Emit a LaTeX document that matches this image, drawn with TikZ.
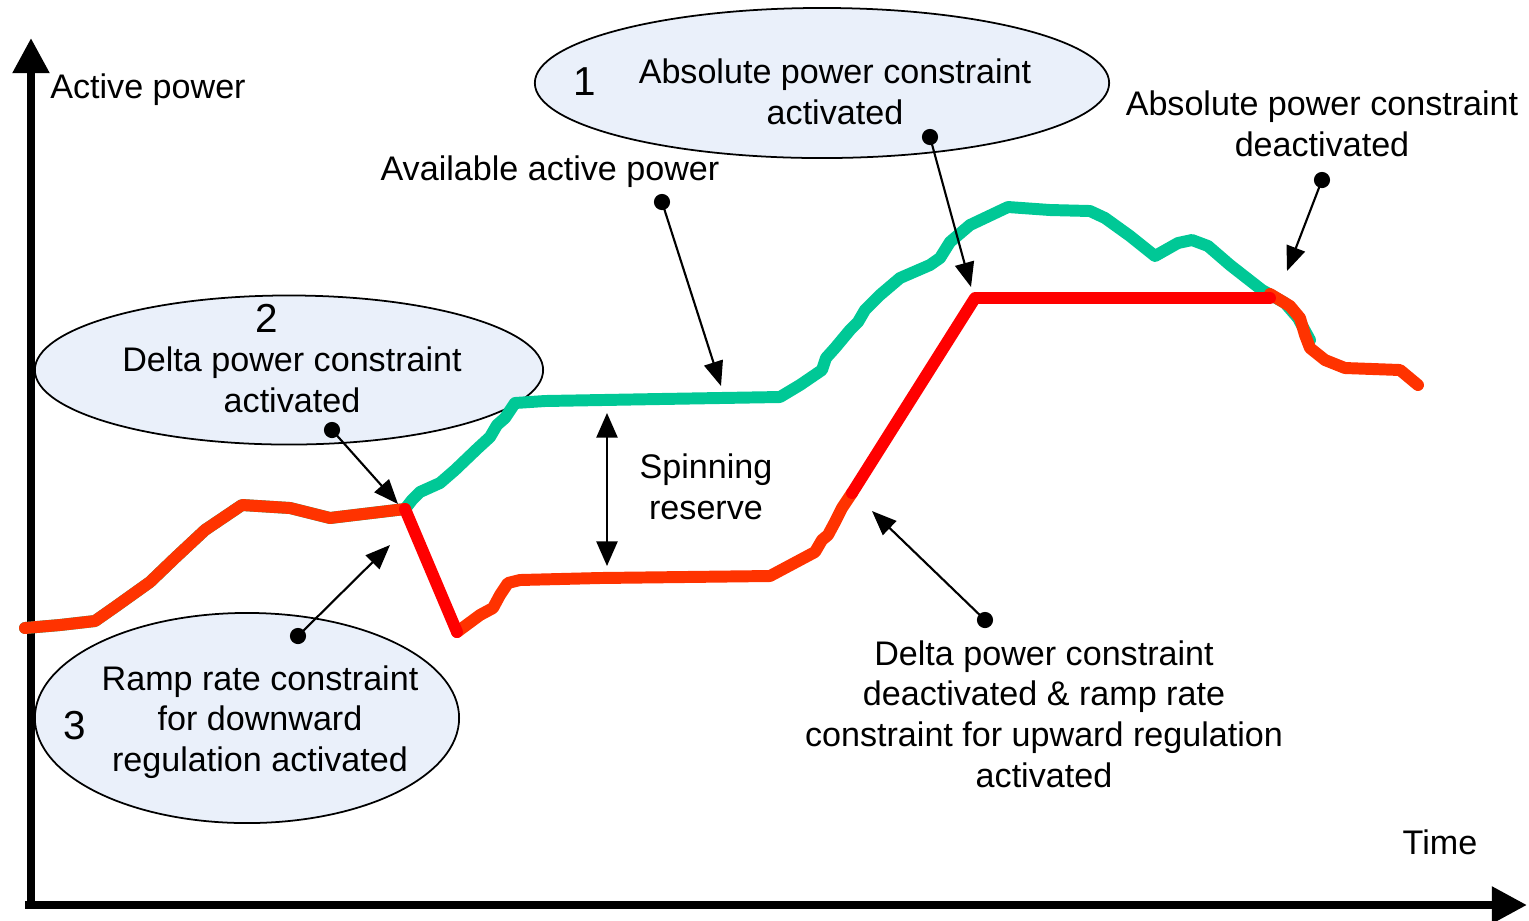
\documentclass[tikz,border=0pt]{standalone}
\usepackage{fontspec}
\setmainfont{Liberation Sans}
\usetikzlibrary{arrows.meta,shapes.geometric}

\definecolor{availgreen}{RGB}{0,200,150}
\definecolor{outred}{RGB}{255,51,0}
\definecolor{limred}{RGB}{255,0,0}
\definecolor{bubblefill}{RGB}{234,240,250}

\begin{document}
\begin{tikzpicture}[
    x=0.01cm, y=-0.01cm,
    font=\fontsize{9.7}{11.6}\selectfont,
    axis/.style={line width=2.3pt, -{Triangle[length=10pt,width=10pt]}},
    bubble/.style={draw, ellipse, fill=bubblefill, line width=0.5pt, inner sep=0pt},
    lbl/.style={align=center, inner sep=0pt},
    num/.style={inner sep=0pt, font=\fontsize{11.5}{13}\selectfont},
    pin/.style={circle, fill=black, inner sep=0pt, minimum size=4.6pt},
    arrow/.style={line width=0.6pt, -{Triangle[length=7pt,width=5.5pt]}},
    curve/.style={line width=3.4pt, line join=round, line cap=round}
]
\useasboundingbox (0,0) rectangle (1529,920);

% axes
\coordinate (origin) at (31,905);
\coordinate (ytop) at (31,38);
\coordinate (xend) at (1527,905);
\draw[axis] (31,909) -- (ytop);
\draw[axis] (25,905) -- (xend);
\node[lbl] (ylabel) at (148,90) {Active power};
\node[lbl] (xlabel) at (1440,842) {Time};

% bubbles
\node[bubble, minimum width=5.74cm, minimum height=1.5cm] (bub1) at (822,83) {};
\node[bubble, minimum width=5.08cm, minimum height=1.49cm] (bub2) at (289,370) {};
\node[bubble, minimum width=4.24cm, minimum height=2.1cm] (bub3) at (247,718) {};
\node[num] (n1) at (585,82) {1};
\node[num] (n2) at (267,318) {2};
\node[num] (n3) at (75,726) {3};
\node[lbl] (abson) at (835,92) {Absolute power constraint\\activated};
\node[lbl] (deltaon) at (292,380) {Delta power constraint\\activated};
\node[lbl] (rampdown) at (260,722) {Ramp rate constraint\\for downward\\regulation activated};

% available power
\draw[curve, availgreen] (25,628) -- (60,625) -- (95,621) -- (115,607) -- (150,582) -- (175,558)
  -- (205,530) -- (242,505) -- (290,508) -- (330,518) -- (338,517) -- (405,509)
  -- (412,500) -- (420,492) -- (440,483) -- (455,470) -- (478,448) -- (490,437) -- (497,425)
  -- (505,418) -- (515,403) -- (545,401) -- (660,399) -- (780,397) -- (800,385) -- (822,370)
  -- (826,358) -- (835,348) -- (850,330) -- (858,322) -- (865,310) -- (880,295) -- (900,278)
  -- (930,265) -- (940,258) -- (950,242) -- (970,225) -- (1008,207) -- (1050,210) -- (1090,211)
  -- (1105,218) -- (1130,236) -- (1155,256) -- (1178,243) -- (1192,240) -- (1208,246)
  -- (1230,265) -- (1262,290) -- (1285,303) -- (1298,318) -- (1310,340);

% actual output
\draw[curve, outred] (25,628) -- (60,625) -- (95,621) -- (115,607) -- (150,582) -- (175,558)
  -- (205,530) -- (242,505) -- (290,508) -- (330,518) -- (338,517) -- (405,509);
\draw[curve, outred] (457,632) -- (480,615) -- (493,608) -- (500,595) -- (508,583) -- (520,580)
  -- (600,578) -- (770,576) -- (800,560) -- (815,552) -- (822,540) -- (828,535) -- (835,522)
  -- (842,508) -- (852,493);
\draw[curve, outred] (1270,294) -- (1290,306) -- (1300,318) -- (1305,335) -- (1310,348)
  -- (1325,360) -- (1345,368) -- (1400,370) -- (1418,385);

% constraint segments
\draw[curve, limred] (405,509) -- (457,632);
\draw[curve, limred] (852,493) -- (975,298) -- (1270,298);

% spinning reserve
\coordinate (resup) at (607,413);
\coordinate (resdown) at (607,566);
\draw[line width=0.6pt, {Triangle[length=7pt,width=6pt]}-{Triangle[length=7pt,width=6pt]}] (resup) -- (resdown);
\node[lbl] (reserve) at (706,487) {Spinning\\reserve};

% pointers
\node[lbl] (availtxt) at (550,172) {Available active power};
\node[pin] (p1) at (662,202) {};
\coordinate (t1) at (721,386);
\draw[arrow] (p1.center) -- (t1);

\node[pin] (p2) at (930,137) {};
\coordinate (t2) at (971,287);
\draw[arrow] (p2.center) -- (t2);

\node[lbl] (absoff) at (1322,124) {Absolute power constraint\\deactivated};
\node[pin] (p3) at (1322,180) {};
\coordinate (t3) at (1287,271);
\draw[arrow] (p3.center) -- (t3);

\node[pin] (p4) at (332,430) {};
\coordinate (t4) at (398,504);
\draw[arrow] (p4.center) -- (t4);

\node[pin] (p5) at (298,636) {};
\coordinate (t5) at (390,545);
\draw[arrow] (p5.center) -- (t5);

\node[lbl] (deltaoff) at (1044,714) {Delta power constraint\\deactivated \& ramp rate\\constraint for upward regulation\\activated};
\node[pin] (p6) at (985,620) {};
\coordinate (t6) at (872,511);
\draw[arrow] (p6.center) -- (t6);
\end{tikzpicture}
\end{document}
